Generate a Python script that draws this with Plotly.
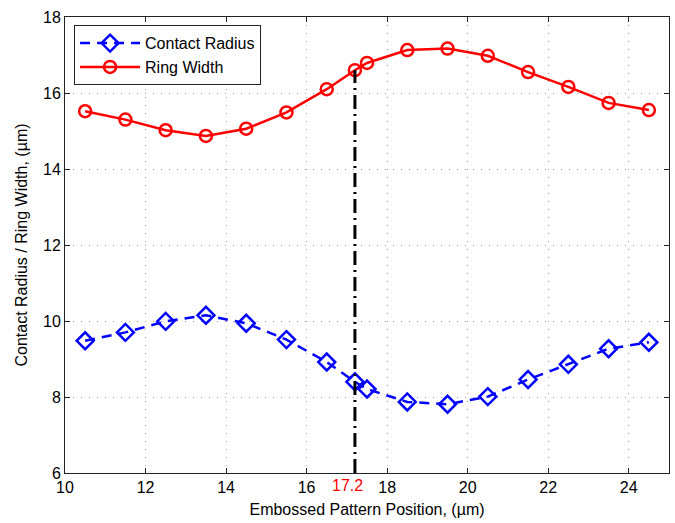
import plotly.graph_objects as go

# Embossed pattern positions (µm) and measured values (µm)
position = [10.5, 11.5, 12.5, 13.5, 14.5, 15.5, 16.5, 17.2, 17.5, 18.5, 19.5, 20.5, 21.5, 22.5, 23.5, 24.5]
contact_radius = [9.48, 9.70, 9.99, 10.15, 9.94, 9.51, 8.92, 8.40, 8.21, 7.87, 7.81, 8.01, 8.46, 8.86, 9.27, 9.44]
ring_width = [15.52, 15.30, 15.02, 14.87, 15.06, 15.49, 16.10, 16.60, 16.79, 17.13, 17.17, 16.98, 16.55, 16.16, 15.74, 15.55]

# Marked position
marked_x = 17.2
marked_label = "17.2"

x_ticks = [10, 12, 14, 16, 18, 20, 22, 24]
y_ticks = [6, 8, 10, 12, 14, 16, 18]

font = dict(family="Liberation Sans, Arial, sans-serif", size=16, color="black")

fig = go.Figure()

fig.add_trace(go.Scatter(
    x=position, y=contact_radius, name="Contact Radius",
    mode="lines+markers",
    line=dict(color="#0000ff", width=2.5, dash="10px,7px"),
    marker=dict(symbol="diamond-open", size=13, color="#0000ff", line=dict(width=2.5, color="#0000ff")),
))
fig.add_trace(go.Scatter(
    x=position, y=ring_width, name="Ring Width",
    mode="lines+markers",
    line=dict(color="#ff0000", width=2.5),
    marker=dict(symbol="circle-open", size=12, color="#ff0000", line=dict(width=2.5, color="#ff0000")),
))

# Vertical marker from the axis floor up to the ring width at the marked position
marked_ring = ring_width[position.index(marked_x)]
fig.add_trace(go.Scatter(
    x=[marked_x, marked_x], y=[y_ticks[0], marked_ring],
    mode="lines", showlegend=False, hoverinfo="skip",
    line=dict(color="black", width=3, dash="14px,5px,2px,5px"),
))

axis_common = dict(
    showline=True, linecolor="#222222", linewidth=1, mirror="ticks",
    ticks="inside", ticklen=5, tickcolor="#222222", tickwidth=1,
    showgrid=True, gridcolor="#9a9a9a", griddash="1px,7px", gridwidth=1,
    zeroline=False, tickfont=font,
)

fig.update_xaxes(
    range=[10, 25], tickvals=x_ticks, ticktext=[str(v) for v in x_ticks],
    title=dict(text="Embossed Pattern Position, (µm)", font=font, standoff=8),
    **axis_common,
)
fig.update_yaxes(
    range=[6, 18], tickvals=y_ticks, ticktext=[str(v) for v in y_ticks],
    title=dict(text="Contact Radius / Ring Width, (µm)", font=font, standoff=11),
    **axis_common,
)

fig.add_annotation(
    x=marked_x, xref="x", y=0, yref="paper", yanchor="top",
    text=marked_label, showarrow=False, xshift=-7, yshift=-2,
    font=dict(family=font["family"], size=16, color="#ff0000"),
)

fig.update_layout(
    width=675, height=523,
    margin=dict(l=65, r=6, t=17, b=50),
    plot_bgcolor="white", paper_bgcolor="white",
    font=font,
    legend=dict(
        x=0.015, y=0.982, xanchor="left", yanchor="top",
        bordercolor="#222222", borderwidth=1, bgcolor="white",
        font=font, tracegroupgap=0, itemwidth=60,
    ),
    showlegend=True,
)

fig.write_html("out.html")
